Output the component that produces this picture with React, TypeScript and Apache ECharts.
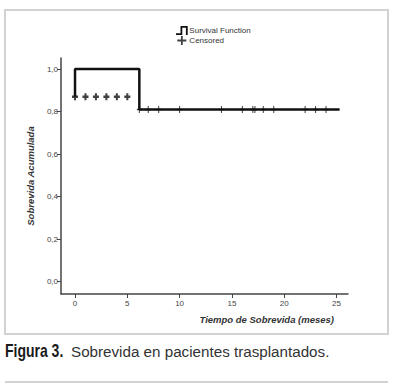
import React, { useEffect, useRef } from "react";
import * as echarts from "echarts";

// Kaplan-Meier step function (time in months, cumulative survival)
const stepTimes = [0, 0, 6.15, 6.15, 25.3];
const stepSurvival = [0.87, 1.0, 1.0, 0.81, 0.81];

// Censored observations
const censorTimesEarly = [0, 1, 2, 3, 4, 5];
const censorSurvivalEarly = [0.87, 0.87, 0.87, 0.87, 0.87, 0.87];
const censorTimesLate = [6.15, 7, 8, 10, 14, 16, 17, 17.2, 18, 19, 22, 23, 24];
const censorSurvivalLate = [0.81, 0.81, 0.81, 0.81, 0.81, 0.81, 0.81, 0.81, 0.81, 0.81, 0.81, 0.81, 0.81];

const xTicks = [0, 5, 10, 15, 20, 25];
const yTicks = [0, 0.2, 0.4, 0.6, 0.8, 1.0];

const legendNames = ["Survival Function", "Censored"];
const xAxisTitle = "Tiempo de Sobrevida (meses)";
const yAxisTitle = "Sobrevida Acumulada";
const captionBold = "Figura 3.";
const captionText = "Sobrevida en pacientes trasplantados.";

const PLUS = "path://M4,0H6V4H10V6H6V10H4V6H0V4H4Z";
const PLUS_BOLD = "path://M3.3,0H6.7V3.3H10V6.7H6.7V10H3.3V6.7H0V3.3H3.3Z";
const STEP_ICON = "path://M0,8H5V0H13V10H11V2H7V10H0Z";

export default function App() {
  const ref = useRef<HTMLDivElement>(null);
  useEffect(() => {
    if (!ref.current) return;
    const chart = echarts.init(ref.current, null, { renderer: "svg" });
    const axisText = { color: "#444", fontSize: 8, fontFamily: "Liberation Sans" };
    chart.setOption({
      animation: false,
      backgroundColor: "#fff",
      grid: { left: 61, right: 52, top: 58, bottom: 96 },
      legend: {
        orient: "vertical",
        left: 176,
        top: 26,
        itemGap: 1,
        itemWidth: 13,
        itemHeight: 9,
        padding: 0,
        textStyle: { fontSize: 8, color: "#333", fontFamily: "Liberation Sans", padding: [0, 0, 0, -4] },
        data: [
          { name: legendNames[0], icon: STEP_ICON },
          { name: legendNames[1], icon: PLUS },
        ],
      },
      xAxis: {
        type: "value",
        min: -1.34,
        max: 26.1,
        splitLine: { show: false },
        axisLine: { show: true, onZero: false, lineStyle: { color: "#444", width: 1.5 } },
        axisTick: { show: true, length: 4, customValues: xTicks, lineStyle: { color: "#444" } },
        axisLabel: { ...axisText, margin: 5, customValues: xTicks, formatter: (v: number) => String(v) },
      },
      yAxis: {
        type: "value",
        min: -0.058,
        max: 1.052,
        splitLine: { show: false },
        axisLine: { show: true, onZero: false, lineStyle: { color: "#444", width: 1.5 } },
        axisTick: { show: true, length: 4, customValues: yTicks, lineStyle: { color: "#444" } },
        axisLabel: {
          ...axisText,
          margin: 3,
          customValues: yTicks,
          formatter: (v: number) => v.toFixed(1).replace(".", ","),
        },
        name: yAxisTitle,
        nameLocation: "middle",
        nameGap: 26,
        nameTextStyle: {
          fontSize: 9.5,
          fontStyle: "italic",
          fontWeight: "bold",
          color: "#333",
          fontFamily: "Liberation Sans",
        },
      },
      series: [
        {
          name: legendNames[0],
          type: "line",
          data: stepTimes.map((t, i) => [t, stepSurvival[i]]),
          showSymbol: false,
          symbol: "none",
          lineStyle: { color: "#111", width: 2.5 },
          itemStyle: { color: "#111" },
          z: 2,
        },
        {
          name: legendNames[1],
          type: "scatter",
          data: censorTimesEarly.map((t, i) => [t, censorSurvivalEarly[i]]),
          symbol: PLUS_BOLD,
          symbolSize: [6, 7],
          itemStyle: { color: "#111" },
          z: 3,
        },
        {
          name: legendNames[1],
          type: "scatter",
          data: censorTimesLate.map((t, i) => [t, censorSurvivalLate[i]]),
          symbol: PLUS,
          symbolSize: [5, 7],
          itemStyle: { color: "#111" },
          z: 3,
        },
      ],
      graphic: [
        {
          type: "rect",
          shape: { x: 5, y: 10, width: 383, height: 324 },
          style: { fill: "none", stroke: "#d2d2d2", lineWidth: 2 },
          silent: true,
        },
        {
          type: "line",
          shape: { x1: 5, y1: 382, x2: 388, y2: 382 },
          style: { stroke: "#d2d2d2", lineWidth: 2 },
          silent: true,
        },
        {
          type: "text",
          x: 334,
          y: 319,
          style: {
            text: xAxisTitle,
            align: "right",
            verticalAlign: "middle",
            fontSize: 9.5,
            fontStyle: "italic",
            fontWeight: "bold",
            fill: "#333",
            fontFamily: "Liberation Sans",
          },
        },
        {
          type: "text",
          x: 5,
          y: 351,
          scaleX: 0.8,
          style: {
            text: captionBold,
            verticalAlign: "middle",
            fontSize: 17.5,
            fontWeight: "bold",
            fill: "#1a1a1a",
            fontFamily: "Liberation Sans",
          },
        },
        {
          type: "text",
          x: 71,
          y: 351.5,
          style: {
            text: captionText,
            verticalAlign: "middle",
            fontSize: 15.2,
            fill: "#333",
            fontFamily: "Liberation Sans",
          },
        },
      ],
    });
    return () => chart.dispose();
  }, []);
  return (
    <div
      ref={ref}
      style={{ position: "absolute", left: 0, top: 0, width: 400, height: 390, background: "#fff" }}
    />
  );
}
